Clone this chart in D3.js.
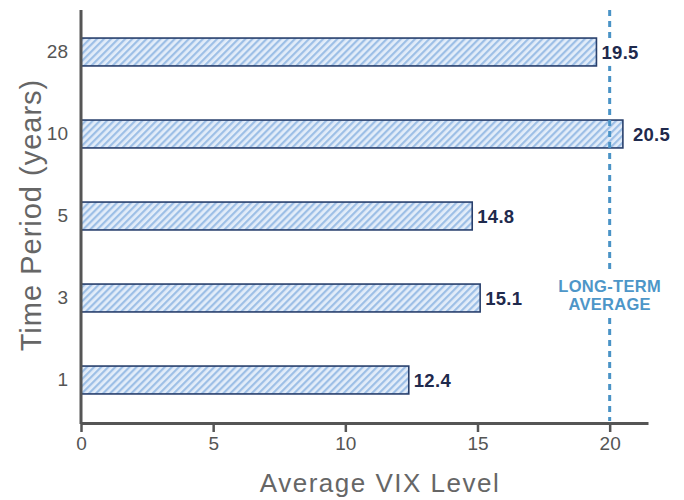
<!DOCTYPE html>
<html>
<head>
<meta charset="utf-8">
<script src="https://cdn.jsdelivr.net/npm/d3@7"></script>
<style>
  body { margin: 0; background: #fff; }
  svg { display: block; }
</style>
</head>
<body>
<svg id="chart" width="684" height="500"></svg>
<script>
// Average VIX level over trailing time periods
const periods = ["28", "10", "5", "3", "1"];
const vixValues = [19.5, 20.5, 14.8, 15.1, 12.4];
const xTicks = [0, 5, 10, 15, 20];
const longTermAverage = 20;
const refLabel = ["LONG-TERM", "AVERAGE"];

const svg = d3.select("#chart");
const axisColor = "#555555";
const sans = "'Liberation Sans', Arial, sans-serif";
const narrow = "'Liberation Sans Narrow', 'Liberation Sans', sans-serif";

const x = d3.scaleLinear().domain([0, 21.45]).range([81, 648]);
const y = d3.scaleBand().domain(periods).range([11, 421])
  .paddingInner(0.66).paddingOuter(0.33);

// diagonal hatch fill for bars
const defs = svg.append("defs");
const pat = defs.append("pattern")
  .attr("id", "hatch").attr("patternUnits", "userSpaceOnUse")
  .attr("width", 5).attr("height", 5)
  .attr("patternTransform", "rotate(45)");
pat.append("rect").attr("width", 5).attr("height", 5).attr("fill", "#e3edf9");
pat.append("rect").attr("width", 2.2).attr("height", 5).attr("fill", "#9dbfe6");

// bars
svg.append("g").selectAll("rect").data(periods).join("rect")
  .attr("x", x(0))
  .attr("y", d => y(d))
  .attr("width", (d, i) => x(vixValues[i]) - x(0))
  .attr("height", y.bandwidth())
  .attr("fill", "url(#hatch)")
  .attr("stroke", "#283f6c")
  .attr("stroke-width", 1.6);

// long-term average reference line (drawn over the bars)
svg.append("line")
  .attr("x1", x(longTermAverage)).attr("x2", x(longTermAverage))
  .attr("y1", 10).attr("y2", 421)
  .attr("stroke", "#4a93c6").attr("stroke-width", 3)
  .attr("stroke-dasharray", "6,5");

// value labels on white backing; bars crossing the average get extra room
const labelX = i => x(vixValues[i]) + (vixValues[i] > longTermAverage ? 10 : 5);
const labels = svg.append("g").selectAll("g").data(periods).join("g");
labels.append("rect")
  .attr("x", (d, i) => labelX(i) - 2)
  .attr("y", d => y(d))
  .attr("width", 44)
  .attr("height", y.bandwidth())
  .attr("fill", "#fff");
labels.append("text")
  .attr("x", (d, i) => labelX(i))
  .attr("y", d => y(d) + y.bandwidth() / 2)
  .attr("dy", "0.36em")
  .attr("font-family", sans)
  .attr("font-weight", 700)
  .attr("font-size", 18.5)
  .attr("letter-spacing", 0.3)
  .attr("fill", "#1f2a4d")
  .text((d, i) => vixValues[i].toFixed(1));

// reference label
svg.append("rect")
  .attr("x", x(longTermAverage) - 58).attr("y", 271)
  .attr("width", 116).attr("height", 47)
  .attr("fill", "#fff");

svg.append("g").selectAll("text").data(refLabel).join("text")
  .attr("x", x(longTermAverage))
  .attr("y", (d, i) => 292 + i * 18)
  .attr("text-anchor", "middle")
  .attr("font-family", sans)
  .attr("font-weight", 700)
  .attr("font-size", 16.5)
  .attr("letter-spacing", 0.3)
  .attr("fill", "#4d96c8")
  .text(d => d);

// x axis
const xAxis = svg.append("g")
  .attr("transform", "translate(0,423)")
  .call(d3.axisBottom(x).tickValues(xTicks).tickSize(9).tickSizeOuter(0));
xAxis.select(".domain").attr("stroke", axisColor).attr("stroke-width", 3);
xAxis.selectAll(".tick line").attr("stroke", axisColor).attr("stroke-width", 2.5);
xAxis.selectAll(".tick text")
  .attr("font-family", narrow)
  .attr("font-size", 19).attr("fill", axisColor).attr("dy", "0.8em");

// y axis
const yAxis = svg.append("g")
  .attr("transform", `translate(${x(0)},0)`)
  .call(d3.axisLeft(y).tickSize(0).tickPadding(13));
yAxis.select(".domain").attr("d", "M0,10V424").attr("stroke", axisColor).attr("stroke-width", 3);
yAxis.selectAll(".tick text")
  .attr("font-family", narrow)
  .attr("font-size", 19).attr("fill", axisColor);

// axis titles
svg.append("text")
  .attr("x", 380).attr("y", 492)
  .attr("text-anchor", "middle")
  .attr("font-family", sans)
  .attr("font-size", 26).attr("letter-spacing", 1.5).attr("fill", "#666")
  .text("Average VIX Level");

svg.append("text")
  .attr("transform", "translate(41,215) rotate(-90)")
  .attr("text-anchor", "middle")
  .attr("font-family", sans)
  .attr("font-size", 29).attr("letter-spacing", 1).attr("fill", "#666")
  .text("Time Period (years)");
</script>
</body>
</html>
